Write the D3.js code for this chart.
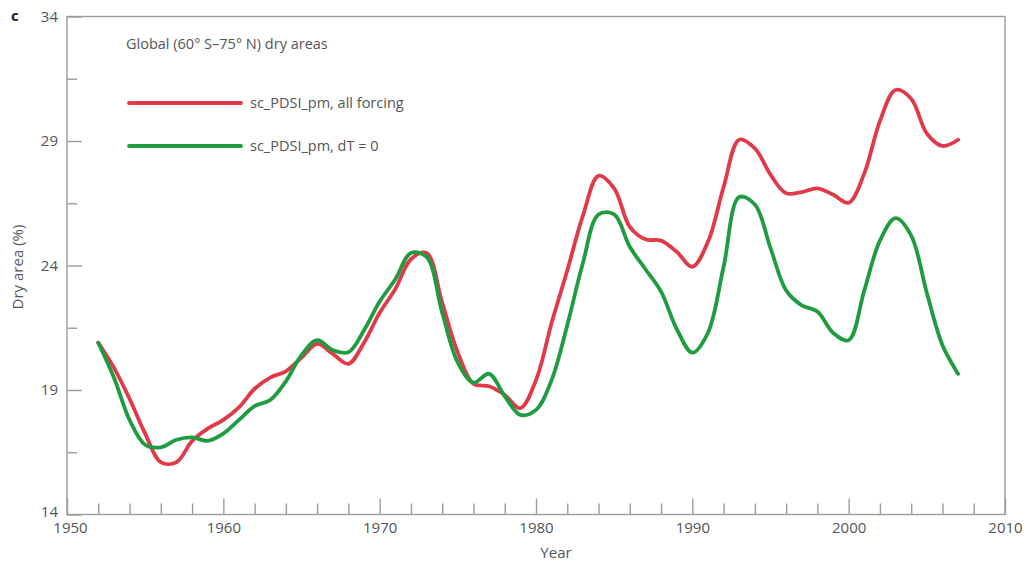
<!DOCTYPE html>
<html>
<head>
<meta charset="utf-8">
<script src="https://cdn.jsdelivr.net/npm/d3@7"></script>
<style>
  html, body { margin: 0; padding: 0; background: #fff; }
  svg { display: block; }
  text { font-family: "Open Sans", "DejaVu Sans", sans-serif; fill: #555; }
</style>
</head>
<body>
<svg id="chart" width="1035" height="563"></svg>
<script>
// Years of the annual series
const years = d3.range(1952, 2008);

// Dry area (%) with all forcing
const allForcing = [
  20.9, 19.9, 18.65, 17.25, 16.1, 16.1, 16.95, 17.45, 17.8, 18.3,
  19.05, 19.5, 19.75, 20.3, 20.85, 20.45, 20.05, 20.9, 22.1, 23.05,
  24.25, 24.5, 22.5, 20.5, 19.25, 19.15, 18.8, 18.27, 19.4, 21.7,
  23.8, 26.0, 27.6, 27.1, 25.55, 25.05, 25.0, 24.55, 23.95, 24.95,
  27.15, 29.05, 28.7, 27.65, 26.9, 26.95, 27.1, 26.85, 26.52, 27.7,
  29.8, 31.05, 30.7, 29.3, 28.8, 29.05
];

// Dry area (%) with temperature change removed (dT = 0)
const noWarming = [
  20.9, 19.5, 17.8, 16.8, 16.7, 17.0, 17.1, 16.96, 17.25, 17.8,
  18.35, 18.6, 19.35, 20.4, 21.0, 20.6, 20.52, 21.4, 22.55, 23.45,
  24.5, 24.35, 22.1, 20.1, 19.3, 19.65, 18.75, 18.0, 18.2, 19.4,
  21.6, 24.1, 26.05, 26.05, 24.75, 23.85, 22.95, 21.45, 20.5, 21.3,
  23.95, 26.75, 26.45, 24.7, 23.0, 22.4, 22.15, 21.3, 21.0, 23.0,
  25.0, 25.9, 25.2, 22.9, 20.8, 19.65
];

const seriesNames = ["sc_PDSI_pm, all forcing", "sc_PDSI_pm, dT = 0"];
const seriesColors = ["#e03a48", "#1e9c3f"];
const titleText = "Global (60\u00b0 S\u201375\u00b0 N) dry areas";

const xMajorTicks = [1950, 1960, 1970, 1980, 1990, 2000, 2010];
const xMinorTicks = d3.range(1952, 2010, 2).filter(d => d % 10 !== 0);
const yMajorTicks = [14, 19, 24, 29, 34];
const yMinorTicks = [16.5, 21.5, 26.5, 31.5];

const svg = d3.select("#chart");
const plotLeft = 67, plotRight = 1005, plotTop = 16.5, plotBottom = 514.5;
const axisColor = "#9c9c9c";

const x = d3.scaleLinear().domain([1950, 2010]).range([plotLeft, plotRight]);
const y = d3.scaleLinear().domain([14, 34]).range([plotBottom, plotTop]);

// Frame
svg.append("rect")
  .attr("x", plotLeft).attr("y", plotTop)
  .attr("width", plotRight - plotLeft).attr("height", plotBottom - plotTop)
  .attr("fill", "none").attr("stroke", axisColor).attr("stroke-width", 1.4);

function styleAxis(g) {
  g.select(".domain").remove();
  g.selectAll(".tick line").attr("stroke", axisColor).attr("stroke-width", 1.4);
  g.selectAll(".tick text").attr("fill", "#555").style("font-size", "15px")
    .style("font-family", "\"Open Sans\", \"DejaVu Sans\", sans-serif");
}

// X axis (ticks point into the plot)
svg.append("g").attr("transform", `translate(0,${plotBottom})`)
  .call(d3.axisBottom(x).tickValues(xMajorTicks).tickFormat(d3.format("d"))
    .tickSize(-16).tickPadding(8))
  .call(styleAxis)
  .call(g => g.selectAll(".tick text").filter(d => d === 1950).attr("dx", 3));
svg.append("g").attr("transform", `translate(0,${plotBottom})`)
  .call(d3.axisBottom(x).tickValues(xMinorTicks).tickFormat("").tickSize(-11))
  .call(styleAxis);

// Y axis
svg.append("g").attr("transform", `translate(${plotLeft},0)`)
  .call(d3.axisLeft(y).tickValues(yMajorTicks).tickFormat(d3.format("d"))
    .tickSize(-15).tickPadding(9))
  .call(styleAxis)
  .call(g => g.selectAll(".tick text").filter(d => d === 14).attr("dy", "0.1em"));
svg.append("g").attr("transform", `translate(${plotLeft},0)`)
  .call(d3.axisLeft(y).tickValues(yMinorTicks).tickFormat("").tickSize(-10))
  .call(styleAxis);

// Axis titles
svg.append("text").attr("x", 556).attr("y", 558)
  .attr("text-anchor", "middle").style("font-size", "15px").text("Year");
svg.append("text")
  .attr("transform", "translate(23,267) rotate(-90)")
  .attr("text-anchor", "middle").style("font-size", "15px").text("Dry area (%)");

// Panel letter
svg.append("text").attr("x", 11).attr("y", 21)
  .style("font-size", "15px").style("font-weight", "bold")
  .style("fill", "#222").text("c");

// Series lines
const line = d3.line()
  .x((d, i) => x(years[i]))
  .y(d => y(d))
  .curve(d3.curveCatmullRom.alpha(0.5));

[allForcing, noWarming].forEach((vals, k) => {
  svg.append("path").datum(vals)
    .attr("d", line)
    .attr("fill", "none")
    .attr("stroke", seriesColors[k])
    .attr("stroke-width", 3.8)
    .attr("stroke-linecap", "round")
    .attr("stroke-linejoin", "round");
});

// Legend
svg.append("text").attr("x", 126).attr("y", 49).style("font-size", "14.5px")
  .text(titleText);
seriesNames.forEach((name, k) => {
  const ly = 103 + k * 43;
  svg.append("line").attr("x1", 129).attr("x2", 241).attr("y1", ly).attr("y2", ly)
    .attr("stroke", seriesColors[k]).attr("stroke-width", 3.8).attr("stroke-linecap", "round");
  svg.append("text").attr("x", 250).attr("y", ly + 5).style("font-size", "14.5px").text(name);
});
</script>
</body>
</html>
